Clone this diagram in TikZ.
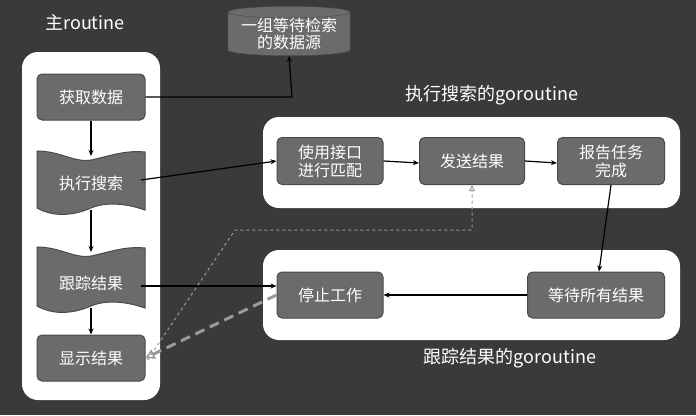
\documentclass[tikz,border=0pt]{standalone}
\usepackage{fontspec}
\setmainfont{Noto Sans CJK SC}
\usetikzlibrary{shapes.geometric,arrows.meta}
\definecolor{bg}{HTML}{3A3A3A}
\definecolor{bx}{HTML}{6B6B6B}
\definecolor{bxd}{HTML}{4A4A4A}
\tikzset{
  panel/.style={fill=white,rounded corners=16pt},
  gbox/.style={draw=bxd,fill=bx,rounded corners=5pt,line width=1pt,text=white,font=\fontsize{16}{18}\selectfont,align=center,inner sep=0pt},
  ttl/.style={text=white,font=\fontsize{18}{20}\selectfont},
  conn/.style={-{Stealth[length=6pt,width=5pt]},line width=1.2pt,black},
  wtxt/.style={text=white,font=\fontsize{16}{18}\selectfont}
}
\begin{document}
\begin{tikzpicture}[x=1pt,y=-1pt]
\fill[bg] (0,0) rectangle (696,415);
\useasboundingbox (0,0) rectangle (696,415);
% panels
\fill[panel] (22,52) rectangle (160,400);
\fill[panel] (263,117) rectangle (680,208);
\fill[panel] (263,250) rectangle (680,340);
% titles
\node[ttl] (t1) at (85,22) {主routine};
\node[ttl] (t2) at (492,95) {执行搜索的goroutine};
\node[ttl] (t3) at (510,358) {跟踪结果的goroutine};
% cylinder
\node[cylinder,shape border rotate=90,aspect=0.12,draw=bxd,fill=bx,minimum width=122pt,minimum height=44pt,text=white,font=\fontsize{16}{17}\selectfont,align=center,inner sep=0pt] (db) at (289,34) {一组等待检索\\的数据源};
% left boxes
\node[gbox,minimum width=108pt,minimum height=46pt] (get) at (91,97) {获取数据};
\node[gbox,minimum width=108pt,minimum height=46pt] (show) at (91,358) {显示结果};
% wavy shapes
\fill[bx,draw=bxd,line width=1pt] (37,151) .. controls (60,151) and (75,163) .. (91,160) .. controls (110,156) and (125,150) .. (145,152) -- (145,210) .. controls (125,203) and (105,202) .. (91,208) .. controls (75,215) and (55,218) .. (37,208) -- cycle;
\node[wtxt,inner sep=0pt,minimum width=100pt,minimum height=20pt] (exec) at (91,183) {执行搜索};
\fill[bx,draw=bxd,line width=1pt] (37,247) .. controls (60,247) and (75,259) .. (91,256) .. controls (110,252) and (125,246) .. (145,248) -- (145,308) .. controls (125,301) and (105,300) .. (91,306) .. controls (75,313) and (55,316) .. (37,306) -- cycle;
\node[wtxt,inner sep=0pt,minimum width=100pt,minimum height=20pt] (track) at (91,283) {跟踪结果};
% right boxes
\node[gbox,minimum width=106pt,minimum height=47pt] (use) at (330,161) {使用接口\\进行匹配};
\node[gbox,minimum width=105pt,minimum height=47pt] (send) at (472,161) {发送结果};
\node[gbox,minimum width=107pt,minimum height=47pt] (rep) at (611,161) {报告任务\\完成};
\node[gbox,minimum width=106pt,minimum height=46pt] (stop) at (330,295) {停止工作};
\node[gbox,minimum width=137pt,minimum height=46pt] (wait) at (596,295) {等待所有结果};
% connectors
\coordinate (c1) at (292,97);
\draw[conn] (get.east) -- (c1) -- (db.south);
\draw[conn] (get.south) -- (91,156);
\draw[conn] (91,210) -- (91,252);
\draw[conn] (91,308) -- (show.north);
\draw[conn] (141,180) -- (use.west);
\draw[conn] (use.east) -- ([yshift=-2pt]send.west);
\draw[conn] (send.east) -- ([yshift=-2pt]rep.west);
\draw[conn] (rep.south) -- ([xshift=3pt]wait.north);
\draw[conn] (wait.west) -- (stop.east);
\draw[conn] (141,286) -- ([yshift=9pt]stop.west);
% dashed
\coordinate (d1) at (235,230);
\coordinate (d2) at (472,230);
\draw[gray!80,dashed,line width=1pt,-{Triangle[open,length=6pt,width=6pt]}] ([xshift=2pt,yshift=-2pt]show.east) -- (d1) -- (d2) -- (send.south);
\draw[gray!80,dash pattern=on 10pt off 6pt,line width=3pt,-{Triangle[open,length=9pt,width=10pt,line width=1.5pt]}] (stop.west) -- (show.east);
\end{tikzpicture}
\end{document}
